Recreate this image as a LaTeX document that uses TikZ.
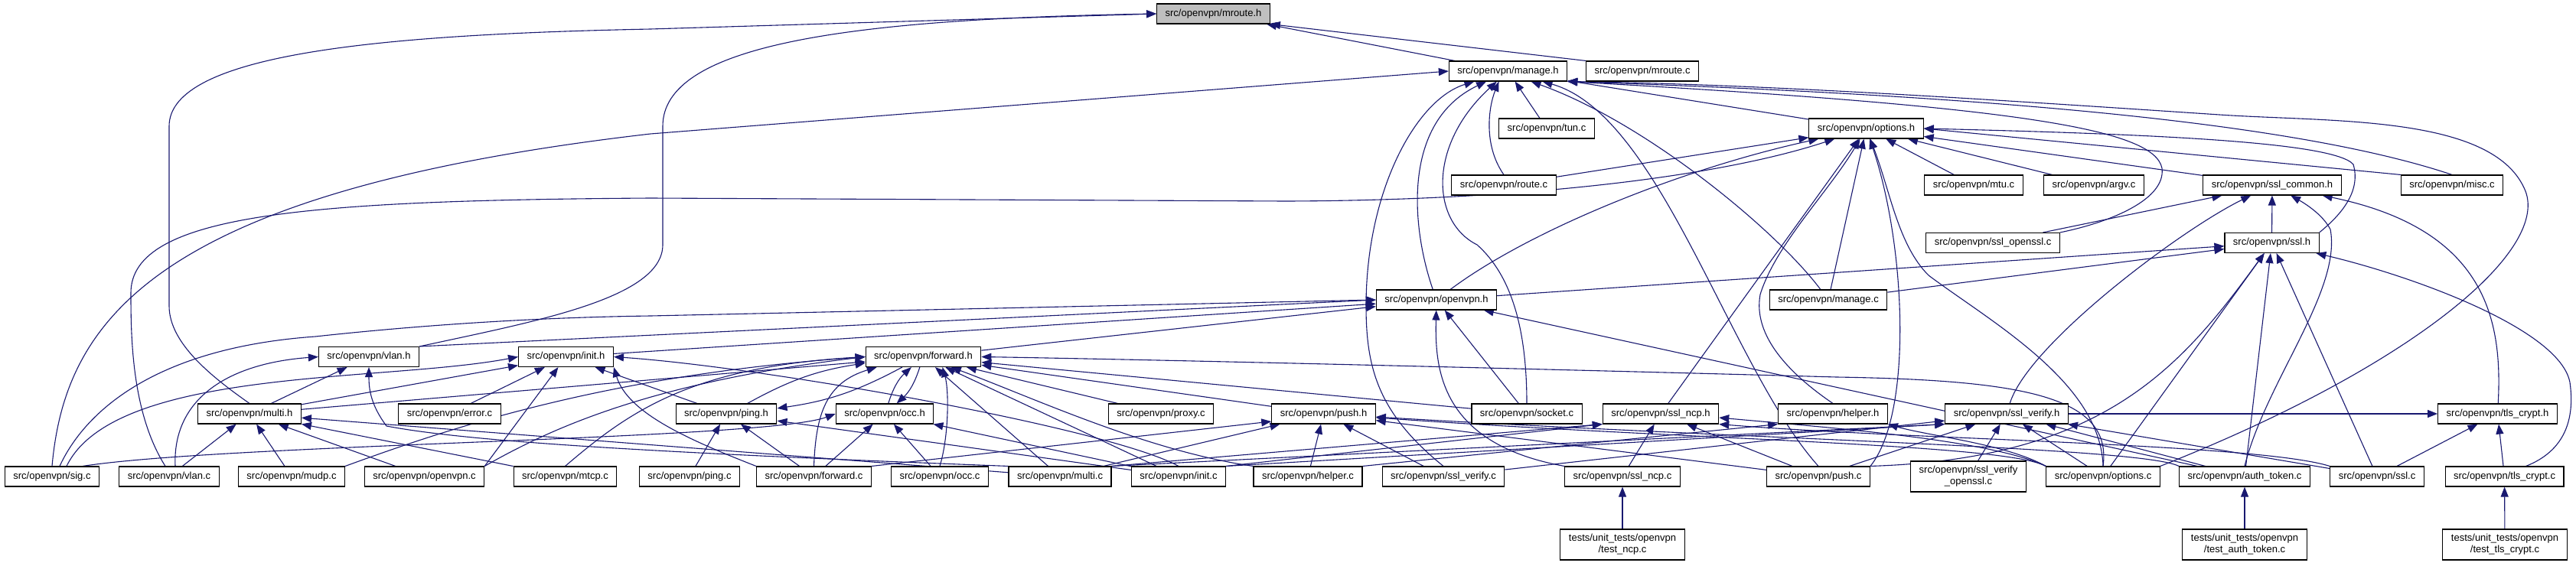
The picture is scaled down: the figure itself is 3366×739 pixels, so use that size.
\documentclass[tikz,border=0pt]{standalone}
\usepackage{fontspec}
\setmainfont{Liberation Sans}
\usetikzlibrary{arrows.meta,backgrounds}
\definecolor{edgeblue}{HTML}{191970}
\definecolor{curgray}{HTML}{BFBFBF}

\begin{document}
\begin{tikzpicture}[x=1pt,y=-1pt,
  filebase/.style={draw=black,line width=1.1pt,fill=white,font=\fontsize{13}{15}\selectfont,inner xsep=11pt,inner ysep=0pt},
  file/.style={filebase,minimum height=26pt,text height=9.5pt,text depth=3pt},
  twofile/.style={filebase,align=center,minimum height=40pt},
  curfile/.style={file,fill=curgray},
  incl/.style={draw=edgeblue,line width=1.1pt,-{Triangle[length=13pt,width=10pt]}}]
\useasboundingbox (0,0) rectangle (3366,739);

% headers and sources, row by row
\node[curfile] (mrouteh) at (1585.5,18) {src/openvpn/mroute.h};
\node[file] (manageh) at (1970.5,93) {src/openvpn/manage.h};
\node[file] (mroutec) at (2146,93) {src/openvpn/mroute.c};
\node[file] (tunc) at (2021,168) {src/openvpn/tun.c};
\node[file] (optionsh) at (2438.5,168) {src/openvpn/options.h};
\node[file] (routec) at (1965,242) {src/openvpn/route.c};
\node[file] (mtuc) at (2579,242) {src/openvpn/mtu.c};
\node[file] (argvc) at (2736,242) {src/openvpn/argv.c};
\node[file] (sslcommonh) at (2969,242) {src/openvpn/ssl\_common.h};
\node[file] (miscc) at (3204,242) {src/openvpn/misc.c};
\node[file] (sslopensslc) at (2604,317.5) {src/openvpn/ssl\_openssl.c};
\node[file] (sslh) at (2968.5,317.5) {src/openvpn/ssl.h};
\node[file] (openvpnh) at (1877,392) {src/openvpn/openvpn.h};
\node[file] (managec) at (2389,392) {src/openvpn/manage.c};
\node[file] (vlanh) at (482,466.5) {src/openvpn/vlan.h};
\node[file] (inith) at (739.5,466.5) {src/openvpn/init.h};
\node[file] (forwardh) at (1206.5,466.5) {src/openvpn/forward.h};
\node[file] (multih) at (326,541) {src/openvpn/multi.h};
\node[file] (errorc) at (587.5,541) {src/openvpn/error.c};
\node[file] (pingh) at (949,541) {src/openvpn/ping.h};
\node[file] (occh) at (1156,541) {src/openvpn/occ.h};
\node[file] (proxyc) at (1517,541) {src/openvpn/proxy.c};
\node[file] (pushh) at (1729.5,541) {src/openvpn/push.h};
\node[file] (socketc) at (1995,541) {src/openvpn/socket.c};
\node[file] (sslncph) at (2170,541) {src/openvpn/ssl\_ncp.h};
\node[file] (helperh) at (2395,541) {src/openvpn/helper.h};
\node[file] (sslverifyh) at (2622,541) {src/openvpn/ssl\_verify.h};
\node[file] (tlscrypth) at (3263.5,541) {src/openvpn/tls\_crypt.h};
\node[file] (sigc) at (68,623) {src/openvpn/sig.c};
\node[file] (vlanc) at (221,623) {src/openvpn/vlan.c};
\node[file] (mudpc) at (381,623) {src/openvpn/mudp.c};
\node[file] (openvpnc) at (554.5,623) {src/openvpn/openvpn.c};
\node[file] (mtcpc) at (738.5,623) {src/openvpn/mtcp.c};
\node[file] (pingc) at (901,623) {src/openvpn/ping.c};
\node[file] (forwardc) at (1063.5,623) {src/openvpn/forward.c};
\node[file] (occc) at (1228,623) {src/openvpn/occ.c};
\node[file] (multic) at (1385,623) {src/openvpn/multi.c};
\node[file] (initc) at (1540,623) {src/openvpn/init.c};
\node[file] (helperc) at (1709,623) {src/openvpn/helper.c};
\node[file] (sslverifyc) at (1886,623) {src/openvpn/ssl\_verify.c};
\node[file] (sslncpc) at (2120,623) {src/openvpn/ssl\_ncp.c};
\node[file] (pushc) at (2376,623) {src/openvpn/push.c};
\node[twofile] (sslverifyopensslc) at (2572,623) {src/openvpn/ssl\_verify\\\_openssl.c};
\node[file] (optionsc) at (2748,623) {src/openvpn/options.c};
\node[file] (authtokenc) at (2933,623) {src/openvpn/auth\_token.c};
\node[file] (sslc) at (3106,623) {src/openvpn/ssl.c};
\node[file] (tlscryptc) at (3272.5,623) {src/openvpn/tls\_crypt.c};
\node[twofile] (testncpc) at (2120,712) {tests/unit\_tests/openvpn\\/test\_ncp.c};
\node[twofile] (testauthtokenc) at (2933,712) {tests/unit\_tests/openvpn\\/test\_auth\_token.c};
\node[twofile] (testtlscryptc) at (3273,712) {tests/unit\_tests/openvpn\\/test\_tls\_crypt.c};

\begin{pgfonlayer}{background}
% mroute.h
\draw[incl] (manageh) -- (mrouteh);
\draw[incl] (mroutec.north west) -- (mrouteh.south east);
\draw[incl] (multih.north) .. controls (280,495) and (221,450) .. (221,400) -- (221,165) .. controls (221,70) and (500,45) .. (850,38) -- (mrouteh.west);
\draw[incl] (vlanh.north east) .. controls (700,420) and (866,390) .. (866,320) -- (866,165) .. controls (866,60) and (1100,25) .. (mrouteh.west);
% manage.h
\draw[incl] (tunc) -- (manageh);
\draw[incl] (optionsh) -- (manageh);
\draw[incl] (routec.north) .. controls (1938,190) and (1945,140) .. ([xshift=-12pt]manageh.south);
\draw[incl] (openvpnh) .. controls (1845,300) and (1830,160) .. (manageh);
\draw[incl] (managec) .. controls (2320,300) and (2150,160) .. ([xshift=30pt]manageh.south);
\draw[incl] (socketc.north) .. controls (1995,430) and (1975,360) .. (1930,320) .. controls (1870,290) and (1865,190) .. (manageh);
\draw[incl] (sslverifyc.north) .. controls (1800,540) and (1785,480) .. (1785,400) .. controls (1785,250) and (1850,130) .. (manageh);
\draw[incl] (pushc.north) .. controls (2260,480) and (2170,150) .. ([xshift=45pt]manageh.south);
\draw[incl] (sigc.north) .. controls (85,420) and (200,250) .. (850,175) -- (manageh.west);
\draw[incl] (miscc.north) .. controls (3000,160) and (2600,125) .. (manageh.south east);
\draw[incl] (sslopensslc.north east) .. controls (2760,290) and (2830,260) .. (2825,220) .. controls (2815,170) and (2650,140) .. (manageh.south east);
\draw[incl] (optionsc.north east) .. controls (3150,480) and (3330,330) .. (3300,250) .. controls (3260,150) and (3050,160) .. (2900,150) .. controls (2600,130) and (2300,110) .. (manageh.south east);
% options.h
\draw[incl] (routec) -- (optionsh);
\draw[incl] (mtuc) -- (optionsh);
\draw[incl] (argvc) -- (optionsh);
\draw[incl] (sslcommonh) -- (optionsh);
\draw[incl] (miscc.north west) -- (optionsh.east);
\draw[incl] (sslh.north east) .. controls (3060,280) and (3085,250) .. (3075,215) .. controls (3050,185) and (2800,175) .. (optionsh.east);
\draw[incl] (openvpnh) .. controls (2000,300) and (2200,220) .. (optionsh);
\draw[incl] (managec) -- (optionsh);
\draw[incl] ([xshift=-5pt]vlanc.north) .. controls (172,540) and (171,440) .. (171,383) .. controls (171,280) and (400,262) .. (850,259) -- (1680,263) .. controls (2000,262) and (2250,230) .. (optionsh);
\draw[incl] (sslncph) -- (optionsh);
\draw[incl] (helperh.north) .. controls (2340,490) and (2290,440) .. (2300,385) .. controls (2320,320) and (2390,250) .. (optionsh);
\draw[incl] (pushc.north east) .. controls (2500,540) and (2490,320) .. (optionsh);
\draw[incl] (optionsc.north) .. controls (2745,500) and (2600,420) .. (2520,360) .. controls (2480,320) and (2470,250) .. (optionsh);
% ssl_common.h
\draw[incl] (sslopensslc) -- (sslcommonh);
\draw[incl] (sslh) -- (sslcommonh);
\draw[incl] (sslverifyh) .. controls (2650,450) and (2850,300) .. (sslcommonh);
\draw[incl] (authtokenc.north) .. controls (2960,500) and (3060,380) .. (3045,300) .. controls (3035,280) and (3010,265) .. (sslcommonh);
\draw[incl] (tlscrypth) .. controls (3270,420) and (3250,300) .. (sslcommonh);
% ssl.h
\draw[incl] (openvpnh) -- (sslh);
\draw[incl] (managec) -- (sslh);
\draw[incl] (optionsc) -- (sslh);
\draw[incl] (authtokenc) -- (sslh);
\draw[incl] (sslc) -- (sslh);
\draw[incl] (pushc.north east) .. controls (2750,600) and (2850,480) .. (sslh);
\draw[incl] ([xshift=-50pt]tlscryptc.north east) .. controls (3350,590) and (3365,550) .. (3358,500) .. controls (3345,430) and (3150,360) .. (sslh);
% openvpn.h
\draw[incl] ([xshift=10pt]sigc.north) .. controls (110,540) and (200,455) .. (412,440) .. controls (550,425) and (700,415) .. (850,413) -- (openvpnh.west);
\draw[incl] (vlanh.north east) -- (openvpnh.west);
\draw[incl] (inith) -- (openvpnh);
\draw[incl] (forwardh) -- (openvpnh);
\draw[incl] (socketc) -- (openvpnh);
\draw[incl] (sslncpc.north west) .. controls (1880,580) and (1875,480) .. (openvpnh);
\draw[incl] (authtokenc) -- (openvpnh);
% init.h
\draw[incl] (multih) -- (inith);
\draw[incl] (pingh) -- (inith);
\draw[incl] (errorc) -- (inith);
\draw[incl] ([xshift=19pt]sigc.north) .. controls (150,480) and (500,500) .. (inith.west);
\draw[incl] (openvpnc.north east) -- (inith);
\draw[incl] (forwardc.north west) .. controls (900,575) and (820,540) .. (inith.south east);
\draw[incl] (initc.north) .. controls (1450,560) and (1000,480) .. (inith.east);
% forward.h
\draw[incl] (multih) -- (forwardh);
\draw[incl] (pingh) to[bend left=10] (forwardh);
\draw[incl] (forwardh) to[bend left=10] (pingh);
\draw[incl] (occh) to[bend left=15] (forwardh);
\draw[incl] (forwardh) to[bend left=15] (occh);
\draw[incl] (pushh) -- (forwardh);
\draw[incl] (proxyc) -- (forwardh);
\draw[incl] (socketc) -- (forwardh);
\draw[incl] (mudpc.north east) .. controls (600,555) and (800,490) .. (forwardh.west);
\draw[incl] (openvpnc.north east) .. controls (720,560) and (850,500) .. (forwardh.west);
\draw[incl] (mtcpc.north) .. controls (820,540) and (900,480) .. (forwardh.west);
\draw[incl] (forwardc.north) .. controls (1066,540) and (1080,500) .. ([xshift=15pt]forwardh.south west);
\draw[incl] (occc.north) .. controls (1240,570) and (1240,510) .. ([xshift=25pt]forwardh.south);
\draw[incl] (multic) -- (forwardh);
\draw[incl] (initc) -- (forwardh);
\draw[incl] (helperc.north west) .. controls (1500,590) and (1350,520) .. (forwardh);
\draw[incl] (optionsc.north) .. controls (2760,520) and (2650,497) .. (2400,493) .. controls (2000,482) and (1500,470) .. (forwardh.east);
% multi.h
\draw[incl] (vlanc) -- (multih);
\draw[incl] (mudpc) -- (multih);
\draw[incl] (openvpnc) -- (multih);
\draw[incl] (mtcpc) -- (multih);
\draw[incl] (multic) -- (multih);
% vlan.h
\draw[incl] (multih) -- (vlanh);
\draw[incl] ([xshift=8pt]vlanc.north) .. controls (225,520) and (300,475) .. (vlanh.west);
\draw[incl] (multic.north west) .. controls (800,590) and (600,575) .. (505,557) .. controls (485,530) and (482,510) .. (vlanh.south);
% ping.h and occ.h
\draw[incl] (pingc) -- (pingh);
\draw[incl] (forwardc) -- (pingh);
\draw[incl] (initc) -- (pingh);
\draw[incl] (occc) -- (occh);
\draw[incl] (forwardc) -- (occh);
\draw[incl] (initc) -- (occh);
\draw[incl] ([xshift=40pt]sigc.north) .. controls (300,580) and (1000,575) .. (occh.west);
% push.h
\draw[incl] (forwardc.north east) -- ([yshift=-10pt]pushh.west);
\draw[incl] (helperc) -- (pushh);
\draw[incl] (multic) -- (pushh);
\draw[incl] (sslverifyc) -- (pushh);
\draw[incl] (pushc) -- (pushh);
\draw[incl] (optionsc.north west) .. controls (2620,580) and (2200,575) .. (pushh);
\draw[incl] (authtokenc.north west) .. controls (2800,585) and (2300,575) .. (pushh);
% ssl_ncp.h and helper.h
\draw[incl] (sslncpc) -- (sslncph);
\draw[incl] (pushc) -- (sslncph);
\draw[incl] (initc.north east) -- (sslncph.south west);
\draw[incl] (multic.north east) -- (sslncph.south west);
\draw[incl] (optionsc.north west) .. controls (2600,575) and (2400,560) .. ([yshift=-5pt]sslncph.east);
\draw[incl] (sslc.north west) .. controls (2950,580) and (2500,575) .. (sslncph.south east);
\draw[incl] (helperc.north east) -- (helperh.south west);
\draw[incl] (optionsc.north west) .. controls (2620,580) and (2520,570) .. (helperh.south east);
% ssl_verify.h and tls_crypt.h
\draw[incl] (sslverifyc) -- (sslverifyh);
\draw[incl] (pushc) -- (sslverifyh);
\draw[incl] (sslverifyopensslc) -- (sslverifyh);
\draw[incl] (optionsc) -- (sslverifyh);
\draw[incl] (authtokenc) -- (sslverifyh);
\draw[incl] (sslc) -- (sslverifyh);
\draw[incl] (initc.north east) -- (sslverifyh.south west);
\draw[incl] (multic.north east) -- (sslverifyh.south west);
\draw[incl] (tlscryptc) -- (tlscrypth);
\draw[incl] (sslc) -- (tlscrypth);
\draw[incl] (sslverifyh) -- (tlscrypth);
% unit tests
\draw[incl] (testncpc) -- (sslncpc);
\draw[incl] (testauthtokenc) -- (authtokenc);
\draw[incl] (testtlscryptc) -- (tlscryptc);
\end{pgfonlayer}
\end{tikzpicture}
\end{document}
